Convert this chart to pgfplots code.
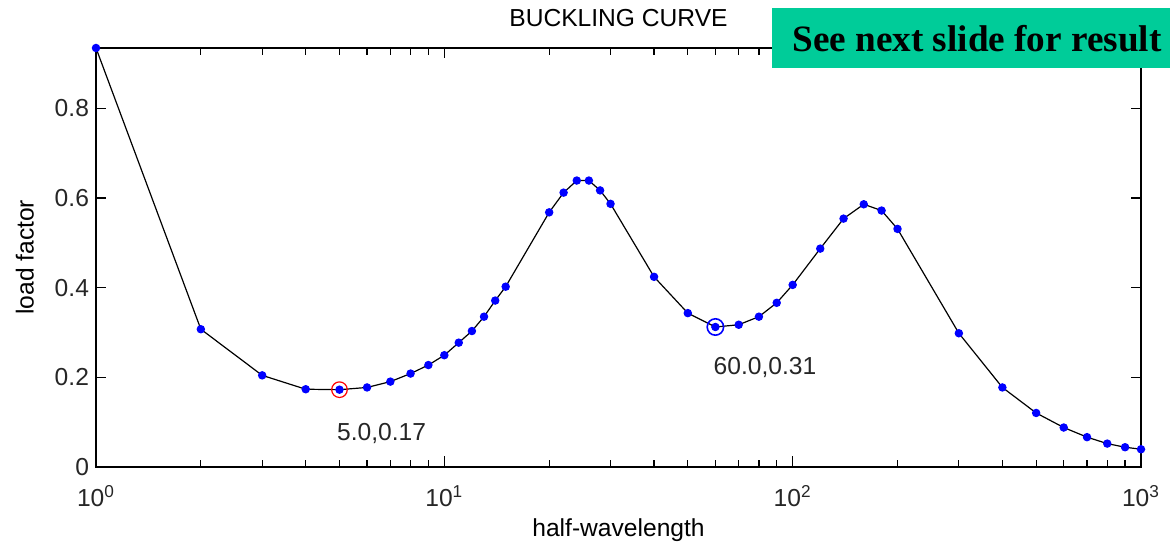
\documentclass[border=0pt]{standalone}
\usepackage{pgfplots}
\pgfplotsset{compat=1.18}
\usepackage{fontspec}
\setmainfont{Liberation Sans}
\newfontfamily\slidefont{Liberation Serif}
\definecolor{curveblue}{RGB}{0,0,255}
\definecolor{notegreen}{RGB}{0,204,153}

% half-wavelength vs. load factor
\pgfplotstableread{
hw     lf
1      0.935
2      0.307
3      0.204
4      0.173
5      0.172
6      0.177
7      0.190
8      0.208
9      0.227
10     0.249
11     0.277
12     0.303
13     0.335
14     0.371
15     0.402
20     0.568
22     0.612
24     0.639
26     0.639
28     0.617
30     0.587
40     0.424
50     0.343
60     0.312
70     0.317
80     0.335
90     0.366
100    0.406
120    0.487
140    0.554
160    0.586
180    0.572
200    0.531
300    0.298
400    0.177
500    0.120
600    0.0875
700    0.066
800    0.0516
900    0.0435
1000   0.039
}\bucklingdata

\begin{document}
\begin{tikzpicture}
\useasboundingbox (-48pt,-40.15pt) rectangle (537pt,233.35pt);
\begin{axis}[
  at={(0,0)}, anchor=south west,
  scale only axis, width=522.5pt, height=209.35pt,
  xmode=log, log basis x=10,
  xmin=1, xmax=1000, ymin=0, ymax=0.935,
  xtick={1,10,100,1000},
  xticklabels={10\textsuperscript{0},10\textsuperscript{1},10\textsuperscript{2},10\textsuperscript{3}},
  minor xtick={2,3,4,5,6,7,8,9,20,30,40,50,60,70,80,90,200,300,400,500,600,700,800,900},
  ytick={0,0.2,0.4,0.6,0.8},
  yticklabels={0,0.2,0.4,0.6,0.8},
  tick align=inside,
  major tick length=5.25pt, minor tick length=3.5pt,
  every tick/.style={black, line width=0.6pt},
  axis line style={line width=1pt},
  /pgf/number format/assume math mode=true,
  tick label style={font=\fontsize{12.3}{14}\selectfont, text=black!85},
  xticklabel style={yshift=-6pt},
  every axis title shift=0pt,
  title={BUCKLING CURVE},
  title style={at={(axis description cs:0.5,1.0717)}, anchor=center, font=\fontsize{12.3}{14}\selectfont},
  xlabel={half-wavelength},
  xlabel style={at={(axis description cs:0.5,-0.1512)}, anchor=center, font=\fontsize{12.3}{14}\selectfont},
  ylabel={load factor},
  ylabel style={at={(axis description cs:-0.068,0.5)}, anchor=center, font=\fontsize{12.3}{14}\selectfont},
  clip=false,
]
\addplot[black, line width=0.6pt, mark=*, mark size=1.8pt,
  mark options={fill=curveblue, draw=curveblue}] table[x=hw, y=lf] {\bucklingdata};
% highlighted local minima
\addplot[only marks, mark=o, mark size=3.9pt, red, mark options={line width=0.6pt}]
  coordinates {(5,0.172)};
\addplot[only marks, mark=o, mark size=4.1pt, curveblue, mark options={line width=0.8pt}]
  coordinates {(60,0.312)};
\node[anchor=west, inner sep=0pt, font=\fontsize{12.3}{14}\selectfont, text=black!85] at (axis cs:4.91,0.075) {5.0,0.17};
\node[anchor=west, inner sep=0pt, font=\fontsize{12.3}{14}\selectfont, text=black!85] at (axis cs:59.2,0.2207) {60.0,0.31};
\end{axis}
% note box in the upper right corner
\fill[notegreen] (338pt,199.35pt) rectangle (537pt,229.35pt);
\node[font=\slidefont\bfseries\fontsize{18.6}{21}\selectfont] at (440.5pt,213.8pt) {See next slide for result};
\end{tikzpicture}
\end{document}
